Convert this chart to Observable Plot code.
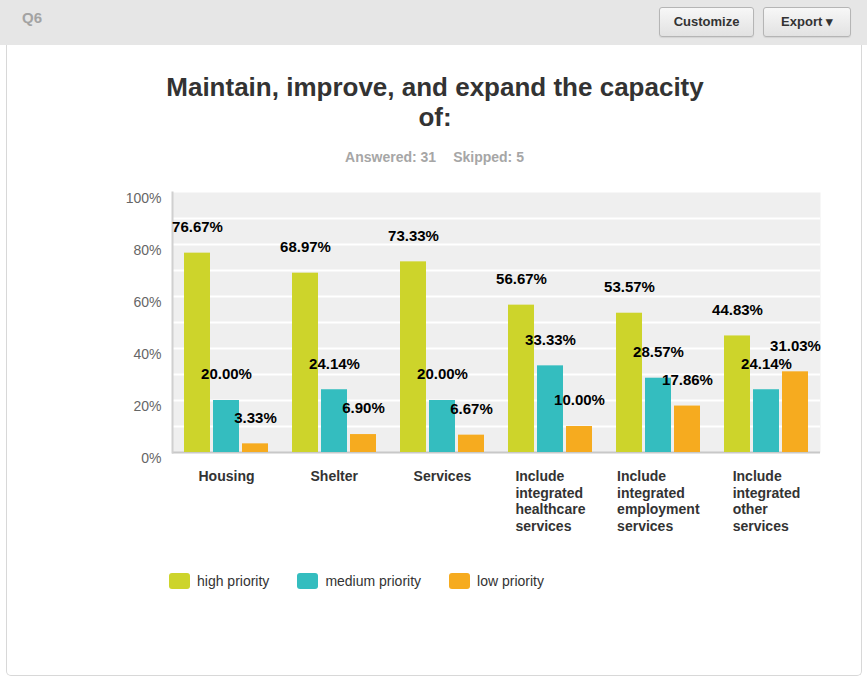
<!DOCTYPE html>
<html>
<head>
<meta charset="utf-8">
<script src="https://cdn.jsdelivr.net/npm/d3@7"></script>
<script src="https://cdn.jsdelivr.net/npm/@observablehq/plot@0.6"></script>
<style>
  body { margin:0; width:867px; height:677px; position:relative; overflow:hidden; background:#fff;
         font-family:"Liberation Sans", Arial, Helvetica, sans-serif; }
  #header { position:absolute; left:0; top:0; width:867px; height:45px; background:#e6e6e6; }
  #q { position:absolute; left:22px; top:9px; font-size:15px; line-height:18px; font-weight:bold; color:#a3a3a3; }
  .btn { position:absolute; top:7px; height:28px; border:1px solid #b5b5b5; border-radius:3px;
         background:linear-gradient(#f7f7f7,#e2e2e2); font-size:13px; font-weight:bold; color:#333;
         line-height:28px; text-align:center; box-shadow:0 1px 1px rgba(0,0,0,0.08); }
  #panel { position:absolute; left:6px; top:45px; width:854px; height:630px; border:1px solid #d8d8d8;
           border-top:none; border-radius:0 0 5px 5px; }
  #title { position:absolute; left:0; top:72px; width:870px; text-align:center; font-size:26px; line-height:30px;
           font-weight:bold; color:#333; }
  #answered { position:absolute; left:0; top:149px; width:869px; text-align:center; font-size:14px; line-height:16px;
              font-weight:bold; color:#a6a6a6; }
  #bg, #chart { position:absolute; left:0; top:180px; }
  #legend { position:absolute; left:169px; top:573px; display:flex; align-items:center; }
  .item { display:flex; align-items:center; margin-right:28px; font-size:14px; color:#333; }
  .sw { width:21px; height:16px; border-radius:3px; margin-right:7px; }
</style>
</head>
<body>
<div id="header">
  <div id="q">Q6</div>
  <div class="btn" style="left:659px;width:93px;">Customize</div>
  <div class="btn" style="left:763px;width:86px;">Export &#9662;</div>
</div>
<div id="panel"></div>
<div id="title">Maintain, improve, and expand the capacity<br>of:</div>
<div id="answered">Answered: 31<span style="display:inline-block;width:17px"></span>Skipped: 5</div>
<div id="bg"></div>
<div id="chart"></div>
<div id="legend"></div>
<script>
const categories = ["Housing", "Shelter", "Services",
  "Include integrated healthcare services",
  "Include integrated employment services",
  "Include integrated other services"];
const categoryLabels = ["Housing", "Shelter", "Services",
  "Include\nintegrated\nhealthcare\nservices",
  "Include\nintegrated\nemployment\nservices",
  "Include\nintegrated\nother\nservices"];
const priorities = ["high priority", "medium priority", "low priority"];
const highValues = [76.67, 68.97, 73.33, 56.67, 53.57, 44.83];
const mediumValues = [20.00, 24.14, 20.00, 33.33, 28.57, 24.14];
const lowValues = [3.33, 6.90, 6.67, 10.00, 17.86, 31.03];
const colors = ["#cdd42b", "#34bdbf", "#f6ab1f"];
const yTicks = [0, 20, 40, 60, 80, 100];
const gridTicks = [10, 20, 30, 40, 50, 60, 70, 80, 90];

const series = [highValues, mediumValues, lowValues];
const data = [];
categories.forEach((c, i) => {
  priorities.forEach((p, j) => data.push({category: c, priority: p, value: series[j][i]}));
});

const dims = {width: 867, height: 360, marginLeft: 172, marginRight: 47, marginTop: 12, marginBottom: 88};
const font = {fontFamily: "'Liberation Sans', Arial, sans-serif", background: "transparent", overflow: "visible"};

// background layer spanning the whole plot area (including gaps between groups)
const bg = Plot.plot({
  ...dims,
  style: font,
  y: {domain: [0, 100], axis: null},
  marks: [
    Plot.frame({fill: "#efefef", stroke: null}),
    Plot.gridY(gridTicks, {stroke: "#ffffff", strokeOpacity: 1, strokeWidth: 2}),
    Plot.ruleY([0], {stroke: "#c8c8c8", strokeWidth: 2}),
    Plot.frame({anchor: "left", stroke: "#d0d0d0", strokeWidth: 2}),
    Plot.axisY(yTicks, {tickFormat: d => d + "%", tickSize: 0, tickPadding: 11, fontSize: 14, fill: "#666", dy: 6})
  ]
});
document.getElementById("bg").appendChild(bg);

const plot = Plot.plot({
  ...dims,
  style: font,
  fx: {domain: categories, paddingInner: 0.2, paddingOuter: 0.1, label: null},
  x: {domain: priorities, paddingInner: 0.1, paddingOuter: 0, axis: null},
  y: {domain: [0, 100], axis: null},
  color: {domain: priorities, range: colors},
  marks: [
    Plot.barY(data, {fx: "category", x: "priority", y: "value", fill: "priority"}),
    Plot.text(data, {fx: "category", x: "priority", y: "value", text: d => d.value.toFixed(2) + "%",
      dy: -26, fontWeight: "bold", fontSize: 15, fill: "#000"}),
    Plot.axisFx({anchor: "bottom", tickFormat: d => categoryLabels[categories.indexOf(d)], tickSize: 0, tickPadding: 17,
      fontSize: 14, fontWeight: "bold", fill: "#333", lineHeight: 1.18, label: null})
  ]
});
document.getElementById("chart").appendChild(plot);

// left-align the wrapped category lines within a centred block
plot.querySelectorAll('g[aria-label="fx-axis tick label"] text').forEach(t => {
  const w = t.getBBox().width;
  t.setAttribute("text-anchor", "start");
  const spans = t.querySelectorAll("tspan");
  if (spans.length) spans.forEach(s => s.setAttribute("x", -w / 2));
  else t.setAttribute("x", -w / 2);
});

const legend = document.getElementById("legend");
priorities.forEach((p, i) => {
  const item = document.createElement("div");
  item.className = "item";
  const sw = document.createElement("div");
  sw.className = "sw";
  sw.style.background = colors[i];
  item.appendChild(sw);
  item.appendChild(document.createTextNode(p));
  legend.appendChild(item);
});
</script>
</body>
</html>
